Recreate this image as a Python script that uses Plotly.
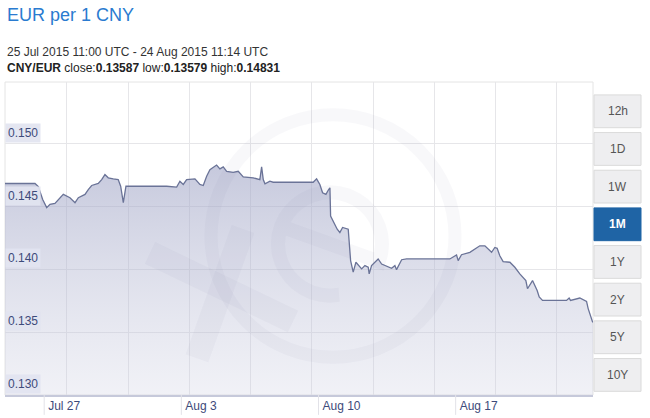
import math
import plotly.graph_objects as go

# ---------------- data ----------------
times = [
    "2015-07-25 11:00", "2015-07-26 23:45", "2015-07-27 03:50", "2015-07-27 09:10", "2015-07-27 14:05",
    "2015-07-27 18:05", "2015-07-28 00:10", "2015-07-28 06:20", "2015-07-28 10:25", "2015-07-28 18:35",
    "2015-07-29 00:45", "2015-07-29 04:50", "2015-07-29 13:00", "2015-07-29 17:00", "2015-07-29 21:10",
    "2015-07-30 05:15", "2015-07-30 09:25", "2015-07-30 13:25", "2015-07-30 17:30", "2015-07-30 23:35",
    "2015-07-31 05:40", "2015-07-31 08:40", "2015-07-31 11:55", "2015-07-31 15:10", "2015-08-02 17:00",
    "2015-08-03 05:15", "2015-08-03 09:15", "2015-08-03 13:20", "2015-08-03 17:30", "2015-08-04 03:40",
    "2015-08-04 09:45", "2015-08-04 13:50", "2015-08-04 18:00", "2015-08-04 22:00", "2015-08-05 06:10",
    "2015-08-05 10:15", "2015-08-05 14:20", "2015-08-05 18:30", "2015-08-06 02:30", "2015-08-06 08:40",
    "2015-08-06 14:50", "2015-08-07 03:00", "2015-08-07 11:10", "2015-08-07 13:20", "2015-08-07 15:20",
    "2015-08-07 17:25", "2015-08-07 23:30", "2015-08-08 03:30", "2015-08-10 04:30", "2015-08-10 08:40",
    "2015-08-10 12:40", "2015-08-10 16:00", "2015-08-10 20:05", "2015-08-10 23:25", "2015-08-11 01:00",
    "2015-08-11 01:50", "2015-08-11 07:05", "2015-08-11 09:55", "2015-08-11 13:10", "2015-08-11 16:30",
    "2015-08-11 23:25", "2015-08-12 02:20", "2015-08-12 05:30", "2015-08-12 08:50", "2015-08-12 15:50",
    "2015-08-12 19:50", "2015-08-12 23:55", "2015-08-13 01:05", "2015-08-13 04:00", "2015-08-13 12:05",
    "2015-08-13 16:20", "2015-08-14 04:30", "2015-08-14 08:35", "2015-08-14 10:35", "2015-08-14 16:50",
    "2015-08-14 22:55", "2015-08-17 03:55", "2015-08-17 07:55", "2015-08-17 12:05", "2015-08-17 14:05",
    "2015-08-17 18:10", "2015-08-18 04:25", "2015-08-18 12:35", "2015-08-18 16:35", "2015-08-18 22:50",
    "2015-08-19 07:00", "2015-08-19 11:00", "2015-08-19 13:50", "2015-08-19 17:05", "2015-08-19 21:10",
    "2015-08-20 05:25", "2015-08-20 11:30", "2015-08-20 17:35", "2015-08-21 01:00", "2015-08-21 03:00",
    "2015-08-21 09:10", "2015-08-21 14:50", "2015-08-21 17:20", "2015-08-21 21:25", "2015-08-23 02:50",
    "2015-08-23 06:00", "2015-08-23 07:40", "2015-08-23 19:05", "2015-08-24 03:20", "2015-08-24 05:20",
    "2015-08-24 08:10", "2015-08-24 10:50", "2015-08-24 11:14",
]
rates = [
    0.14684, 0.14684, 0.14660, 0.14557, 0.14492, 0.14518, 0.14526, 0.14571, 0.14597, 0.14571,
    0.14531, 0.14571, 0.14597, 0.14636, 0.14668, 0.14684, 0.14715, 0.14755, 0.14729, 0.14721,
    0.14715, 0.14662, 0.14531, 0.14662, 0.14662, 0.14655, 0.14702, 0.14676, 0.14715, 0.14721,
    0.14676, 0.14668, 0.14741, 0.14794, 0.14831, 0.14800, 0.14816, 0.14781, 0.14773, 0.14781,
    0.14737, 0.14729, 0.14715, 0.14816, 0.14715, 0.14681, 0.14702, 0.14694, 0.14694, 0.14721,
    0.14676, 0.14610, 0.14597, 0.14636, 0.14650, 0.14425, 0.14360, 0.14320, 0.14294, 0.14334,
    0.14320, 0.14070, 0.13978, 0.14057, 0.14004, 0.14030, 0.14017, 0.13964, 0.14030, 0.14083,
    0.14043, 0.14009, 0.14030, 0.13998, 0.14077, 0.14083, 0.14083, 0.14096, 0.14115, 0.14070,
    0.14117, 0.14136, 0.14168, 0.14188, 0.14188, 0.14136, 0.14175, 0.14168, 0.14109, 0.14062,
    0.14057, 0.14017, 0.13964, 0.13911, 0.13846, 0.13911, 0.13832, 0.13780, 0.13753, 0.13753,
    0.13772, 0.13753, 0.13772, 0.13745, 0.13688, 0.13635, 0.13579, 0.13587,
]

x_tick_vals = ["2015-07-27 11:00", "2015-08-03 11:00", "2015-08-10 11:00", "2015-08-17 11:00"]
x_tick_text = ["Jul 27", "Aug 3", "Aug 10", "Aug 17"]
y_tick_vals = [0.130, 0.135, 0.140, 0.145, 0.150]
y_tick_text = ["0.130", "0.135", "0.140", "0.145", "0.150"]
range_buttons = ["12h", "1D", "1W", "1M", "1Y", "2Y", "5Y", "10Y"]
active_button = "1M"

title_text = "EUR per 1 CNY"
period_text = "25 Jul 2015 11:00 UTC - 24 Aug 2015 11:14 UTC"
stats_text = "<b>CNY/EUR</b> close:<b>0.13587</b> low:<b>0.13579</b> high:<b>0.14831</b>"

# ---------------- layout geometry ----------------
W, H = 650, 418
L, R, T, B = 5, 593, 82, 397
PW, PH = R - L, B - T


def px(x):
    return (x - L) / PW


def py(y):
    return (B - y) / PH


FONT = "Arial, Liberation Sans, sans-serif"
LABEL_COLOR = "#3d4a7a"

fig = go.Figure()
fig.add_trace(go.Scatter(
    x=times, y=rates, mode="lines",
    line=dict(color="#6a7397", width=1.3),
    fill="tozeroy",
    fillgradient=dict(type="vertical", start=0.130, stop=0.150,
                      colorscale=[[0, "rgba(205,207,225,0.28)"], [1, "rgba(155,160,195,0.62)"]]),
    hoverinfo="skip", showlegend=False,
))

shapes = []
annotations = []

# watermark (xe logo, faint)
wm = "rgba(120,125,165,0.055)"
shapes.append(dict(type="circle", xref="paper", yref="paper",
                   x0=px(211), x1=px(455), y0=py(359), y1=py(115),
                   line=dict(color=wm, width=13), layer="above"))
shapes.append(dict(type="line", xref="paper", yref="paper",
                   x0=px(150), y0=py(254), x1=px(293), y1=py(323),
                   line=dict(color=wm, width=24), layer="above"))
shapes.append(dict(type="line", xref="paper", yref="paper",
                   x0=px(243), y0=py(230), x1=px(197), y1=py(360),
                   line=dict(color=wm, width=24), layer="above"))
# "e" of the logo: open arc plus bar (decorative path)
ecx, ecy, er, rot = 330, 245, 52, -20
pts = []
for k in range(0, 301, 10):
    a = math.radians(rot + k)
    pts.append((ecx + er * math.cos(a), ecy - er * math.sin(a)))
a0 = math.radians(rot)
bar_start = (ecx + er * math.cos(a0 + math.pi), ecy - er * math.sin(a0 + math.pi))
path = "M {:.4f},{:.4f} L {:.4f},{:.4f} ".format(px(bar_start[0]), py(bar_start[1]), px(pts[0][0]), py(pts[0][1]))
path += " ".join("L {:.4f},{:.4f}".format(px(x), py(y)) for x, y in pts[1:])
shapes.append(dict(type="path", xref="paper", yref="paper", path=path,
                   line=dict(color=wm, width=14), layer="above"))

# plot border
shapes.append(dict(type="rect", xref="paper", yref="paper", x0=0, x1=1, y0=0, y1=1,
                   line=dict(color="#e4e4e4", width=1), layer="below"))

# x dividers under the axis
for tv in x_tick_vals:
    shapes.append(dict(type="line", xref="x", yref="paper", x0=tv, x1=tv,
                       y0=py(417), y1=0, line=dict(color="#e2e2e8", width=1)))

# y labels with boxed background
for v, t in zip(y_tick_vals, y_tick_text):
    annotations.append(dict(text=t, xref="paper", yref="y", x=0, y=v,
                            xanchor="left", yanchor="bottom", showarrow=False,
                            bgcolor="rgba(226,228,240,0.92)", borderpad=2, yshift=1,
                            font=dict(family=FONT, size=12, color=LABEL_COLOR)))

# range buttons
btn_top0, btn_h, btn_pitch = 95, 33, 37.9
for i, lab in enumerate(range_buttons):
    top = btn_top0 + i * btn_pitch
    active = lab == active_button
    shapes.append(dict(type="rect", xref="paper", yref="paper",
                       x0=px(594), x1=px(641), y0=py(top + btn_h), y1=py(top),
                       fillcolor="#1f64a5" if active else "#eeeef0",
                       line=dict(color="#1f64a5" if active else "#dadada", width=1)))
    annotations.append(dict(text=f"<b>{lab}</b>" if active else lab,
                            xref="paper", yref="paper", x=px(617.5), y=py(top + btn_h / 2),
                            showarrow=False, xanchor="center", yanchor="middle",
                            font=dict(family=FONT, size=12, color="#ffffff" if active else "#555555")))

# header texts
annotations.append(dict(text=title_text, xref="paper", yref="paper", x=px(5), y=py(15),
                        xanchor="left", yanchor="middle", showarrow=False,
                        font=dict(family=FONT, size=18, color="#2a7bd0")))
annotations.append(dict(text=period_text, xref="paper", yref="paper", x=px(5), y=py(52),
                        xanchor="left", yanchor="middle", showarrow=False,
                        font=dict(family=FONT, size=12, color="#333333")))
annotations.append(dict(text=stats_text, xref="paper", yref="paper", x=px(5), y=py(68),
                        xanchor="left", yanchor="middle", showarrow=False,
                        font=dict(family=FONT, size=12, color="#222222")))

fig.update_layout(
    width=W, height=H,
    margin=dict(l=L, r=W - R, t=T, b=H - B),
    paper_bgcolor="white", plot_bgcolor="white",
    font=dict(family=FONT, size=12, color=LABEL_COLOR),
    shapes=shapes, annotations=annotations,
    xaxis=dict(
        type="date",
        range=["2015-07-25 11:00", "2015-08-24 11:14"],
        tickvals=x_tick_vals, ticktext=x_tick_text,
        ticks="", ticklabelposition="outside right", ticklabelshift=3,
        ticklabelstandoff=-1,
        tickfont=dict(family=FONT, size=12, color=LABEL_COLOR),
        showgrid=False, zeroline=False,
        showline=True, linecolor="#c6c9da", linewidth=2,
        minor=dict(tick0="2015-07-28 14:55", dtick=270000000, showgrid=True,
                   gridcolor="#e6e6e9", gridwidth=1, ticks=""),
        fixedrange=True,
    ),
    yaxis=dict(
        range=[0.130, 0.15492],
        tickvals=y_tick_vals, showticklabels=False,
        showgrid=True, gridcolor="#e6e6e9", gridwidth=1,
        zeroline=False, showline=False, ticks="",
        fixedrange=True,
    ),
)

fig.write_html("out.html", config={"displayModeBar": False},
               post_script="document.body.style.margin='0';document.body.style.padding='0';")
